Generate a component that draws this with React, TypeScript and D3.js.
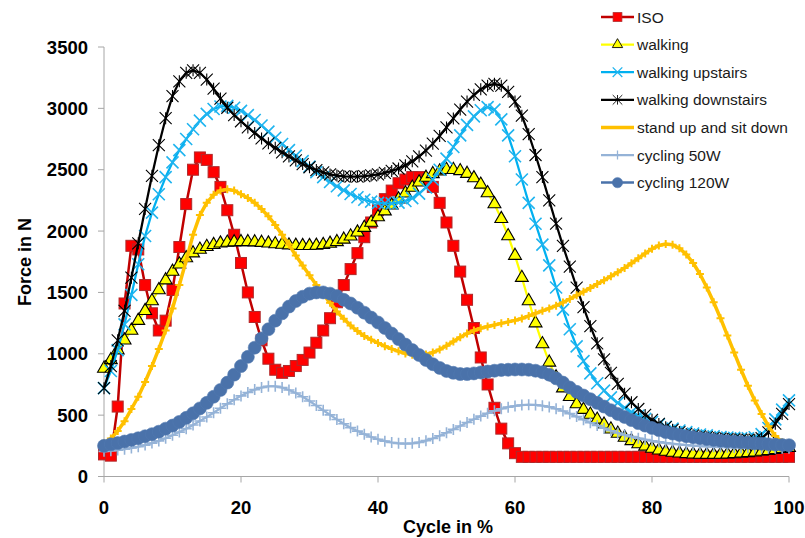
import React from 'react';
import * as d3 from 'd3';

// cycle position in %, one point per percent
const cyclePct = d3.range(0, 101);
const xTicks = [0, 20, 40, 60, 80, 100];
const yTicks = [0, 500, 1000, 1500, 2000, 2500, 3000, 3500];

const iso = [
  180, 170, 570, 1410, 1880, 1850, 1560, 1330, 1190, 1270,
  1520, 1870, 2220, 2500, 2600, 2580, 2480, 2360, 2170, 1970,
  1740, 1500, 1300, 1110, 960, 870, 845, 860, 900, 950,
  1010, 1090, 1190, 1290, 1420, 1560, 1690, 1820, 1950, 2070,
  2170, 2260, 2330, 2390, 2420, 2440, 2440, 2420, 2360, 2230,
  2070, 1880, 1670, 1440, 1210, 970, 750, 560, 390, 270,
  190, 160, 160, 160, 160, 160, 160, 160, 160, 160,
  160, 160, 160, 160, 160, 160, 160, 160, 160, 160,
  160, 160, 160, 160, 160, 160, 160, 160, 160, 160,
  160, 160, 160, 160, 160, 160, 160, 160, 160, 160,
  160,
];

const walking = [
  880, 950, 1030, 1110, 1190, 1270, 1350, 1430, 1520, 1600,
  1670, 1730, 1780, 1820, 1850, 1872, 1888, 1900, 1907, 1910,
  1912, 1912, 1910, 1906, 1900, 1895, 1890, 1885, 1882, 1880,
  1880, 1882, 1888, 1898, 1912, 1932, 1958, 1990, 2028, 2070,
  2115, 2162, 2210, 2260, 2308, 2355, 2398, 2436, 2466, 2488,
  2500, 2500, 2490, 2468, 2432, 2380, 2310, 2220, 2100, 1960,
  1800, 1620, 1430, 1250, 1080, 930, 810, 720, 650, 590,
  545, 505, 465, 425, 385, 350, 318, 290, 265, 245,
  228, 214, 203, 195, 189, 184, 181, 179, 178, 178,
  179, 181, 184, 188, 192, 197, 203, 210, 218, 226,
  235,
];

const upstairs = [
  720, 860, 1030, 1240, 1480, 1730, 1960, 2150, 2300, 2440,
  2560, 2660, 2750, 2830, 2900, 2955, 2995, 3015, 3020, 3005,
  2980, 2945, 2905, 2860, 2810, 2760, 2710, 2660, 2615, 2570,
  2525, 2480, 2440, 2400, 2365, 2332, 2302, 2276, 2255, 2240,
  2230, 2226, 2226, 2232, 2245, 2268, 2305, 2355, 2420, 2500,
  2590, 2685, 2780, 2865, 2935, 2985, 3010, 2990, 2910, 2780,
  2610, 2420, 2230, 2060, 1890, 1720, 1540, 1360, 1200, 1060,
  940, 840, 760, 700, 645, 600, 560, 525, 495, 470,
  445, 425, 405, 390, 375, 362, 350, 342, 335, 328,
  322, 318, 315, 312, 312, 320, 345, 395, 465, 545,
  620,
];

const downstairs = [
  720, 900, 1110, 1350, 1620, 1900, 2180, 2450, 2700, 2920,
  3100, 3220, 3290, 3310, 3290, 3235, 3160, 3080, 3005, 2945,
  2895, 2845, 2800, 2755, 2715, 2678, 2642, 2608, 2576, 2546,
  2520, 2497, 2478, 2462, 2452, 2446, 2444, 2444, 2447, 2453,
  2462, 2474, 2490, 2510, 2536, 2568, 2608, 2656, 2712, 2775,
  2845, 2918, 2990, 3055, 3110, 3155, 3185, 3200, 3185, 3135,
  3055, 2940, 2790, 2620, 2440, 2250, 2060, 1880, 1710, 1540,
  1380, 1225, 1085, 955, 845, 755, 675, 605, 550, 502,
  462, 428, 402, 380, 362, 347, 336, 327, 320, 314,
  309, 305, 302, 300, 298, 300, 312, 360, 430, 510,
  590,
];

const standSit = [
  270, 310, 370, 450, 550, 650, 770, 900, 1040, 1190,
  1370, 1560, 1760, 1970, 2130, 2230, 2295, 2330, 2340, 2330,
  2300, 2270, 2230, 2180, 2120, 2050, 1970, 1890, 1800, 1720,
  1640, 1560, 1485, 1415, 1345, 1285, 1230, 1185, 1145, 1115,
  1088, 1062, 1040, 1020, 1002, 992, 990, 995, 1010, 1035,
  1065, 1100, 1135, 1165, 1190, 1208, 1222, 1235, 1248, 1260,
  1272, 1288, 1308, 1330, 1350, 1370, 1392, 1418, 1446, 1476,
  1506, 1537, 1568, 1600, 1632, 1665, 1700, 1738, 1778, 1818,
  1855, 1882, 1895, 1888, 1860, 1810, 1740, 1650, 1540, 1420,
  1290, 1150, 1010, 870, 740, 620, 510, 410, 330, 280,
  250,
];

const cycling50 = [
  205, 210, 215, 222, 232, 243, 256, 272, 290, 312,
  336, 362, 390, 420, 452, 485, 520, 556, 592, 626,
  657, 685, 708, 725, 735, 735, 725, 705, 680, 650,
  615, 578, 540, 502, 465, 430, 398, 370, 345, 322,
  303, 288, 277, 270, 268, 270, 278, 292, 310, 332,
  357, 384, 412, 440, 467, 492, 515, 535, 552, 565,
  575, 582, 585, 583, 577, 567, 552, 534, 512, 488,
  463, 438, 415, 393, 373, 355, 339, 325, 312, 301,
  291, 282, 274, 267, 261, 256, 252, 248, 245, 242,
  240, 238, 236, 235, 234, 233, 232, 231, 230, 230,
  230,
];

const cycling120 = [
  250, 262, 272, 285, 298, 312, 328, 345, 365, 390,
  415, 445, 478, 515, 555, 600, 650, 705, 765, 830,
  900, 975, 1050, 1125, 1200, 1270, 1330, 1385, 1430, 1465,
  1490, 1500, 1500, 1490, 1470, 1440, 1410, 1375, 1335, 1295,
  1255, 1210, 1165, 1120, 1075, 1030, 990, 950, 915, 885,
  860, 845, 835, 835, 840, 848, 855, 862, 868, 870,
  872, 872, 870, 862, 850, 830, 800, 765, 725, 690,
  660, 630, 600, 570, 540, 510, 485, 460, 435, 415,
  395, 378, 362, 350, 338, 328, 320, 312, 305, 298,
  292, 287, 283, 279, 275, 270, 267, 263, 260, 257,
  255,
];

const seriesNames = ['ISO', 'walking', 'walking upstairs', 'walking downstairs', 'stand up and sit down', 'cycling 50W', 'cycling 120W'];

const FONT = "Arial, 'Liberation Sans', sans-serif";

type Series = {
  name: string;
  values: number[];
  line: string;
  lw: number;
  marker: string;
  fill: string;
  stroke: string;
  sw: number;
};

const series: Series[] = [
  { name: seriesNames[0], values: iso, line: '#c00000', lw: 2.5, marker: 'square', fill: '#ff0000', stroke: '#b0282a', sw: 1 },
  { name: seriesNames[1], values: walking, line: '#ffff00', lw: 2.25, marker: 'triangle', fill: '#ffff00', stroke: '#000000', sw: 1.1 },
  { name: seriesNames[2], values: upstairs, line: '#00b0f0', lw: 2.25, marker: 'x', fill: 'none', stroke: '#1fb4ef', sw: 1.6 },
  { name: seriesNames[3], values: downstairs, line: '#000000', lw: 2.25, marker: 'star', fill: 'none', stroke: '#000000', sw: 1.1 },
  { name: seriesNames[4], values: standSit, line: '#ffc000', lw: 3.5, marker: 'plus', fill: 'none', stroke: '#ffc000', sw: 2 },
  { name: seriesNames[5], values: cycling50, line: '#95b3d7', lw: 2.25, marker: 'plus50', fill: 'none', stroke: '#95b3d7', sw: 1.6 },
  { name: seriesNames[6], values: cycling120, line: '#4a72aa', lw: 2.5, marker: 'circle', fill: '#4a72aa', stroke: '#5078b0', sw: 0.6 },
];

const triPath = d3.symbol(d3.symbolTriangle, 72)() as string;

function Marker({ s, cx, cy, scale = 1 }: { s: Series; cx: number; cy: number; scale?: number }) {
  const t = `translate(${cx},${cy}) scale(${scale})`;
  switch (s.marker) {
    case 'square':
      return <rect x={-5.5} y={-5.5} width={11} height={11} transform={t} fill={s.fill} stroke={s.stroke} strokeWidth={s.sw} />;
    case 'triangle':
      return <path d={triPath} transform={t} fill={s.fill} stroke={s.stroke} strokeWidth={s.sw} />;
    case 'x':
      return <path d="M-6,-6L6,6M-6,6L6,-6" transform={t} stroke={s.stroke} strokeWidth={s.sw} fill="none" />;
    case 'star':
      return <path d="M-6,-6L6,6M-6,6L6,-6M0,-6L0,6" transform={t} stroke={s.stroke} strokeWidth={s.sw} fill="none" />;
    case 'plus':
      return <path d="M-4,0L4,0M0,-4L0,4" transform={t} stroke={s.stroke} strokeWidth={s.sw} fill="none" />;
    case 'plus50':
      return <path d="M-5.5,0L5.5,0M0,-5.5L0,5.5" transform={t} stroke={s.stroke} strokeWidth={s.sw} fill="none" />;
    case 'circle':
      return <circle r={6.5} transform={t} fill={s.fill} stroke={s.stroke} strokeWidth={s.sw} />;
    default:
      return null;
  }
}

export default function App() {
  const width = 805;
  const height = 538;

  const x = d3.scaleLinear().domain([0, 100]).range([104, 789]);
  const y = d3.scaleLinear().domain([0, 3500]).range([476.5, 47]);

  const line = d3.line<number>()
    .x((_, i) => x(cyclePct[i]))
    .y(d => y(d));

  const axisColor = '#a6a6a6';

  return (
    <svg width={width} height={height} style={{ position: 'absolute', left: 0, top: 0, background: '#fff' }} fontFamily={FONT}>
      {/* axes */}
      <line x1={x(0)} x2={x(0)} y1={y(3500)} y2={y(0)} stroke={axisColor} strokeWidth={1} />
      <line x1={x(0)} x2={x(100)} y1={y(0)} y2={y(0)} stroke={axisColor} strokeWidth={1} />
      {yTicks.map(t => (
        <g key={'y' + t}>
          <line x1={x(0) - 6} x2={x(0)} y1={y(t)} y2={y(t)} stroke={axisColor} />
          <text x={88} y={y(t)} dy="0.36em" textAnchor="end" fontSize={18.5} fontWeight="bold" fill="#000">{t}</text>
        </g>
      ))}
      {xTicks.map(t => (
        <g key={'x' + t}>
          <line x1={x(t)} x2={x(t)} y1={y(0)} y2={y(0) + 6} stroke={axisColor} />
          <text x={x(t)} y={507} dy="0.36em" textAnchor="middle" fontSize={18.5} fontWeight="bold" fill="#000">{t}</text>
        </g>
      ))}
      <text x={448} y={527} dy="0.36em" textAnchor="middle" fontSize={18} fontWeight="bold">Cycle in %</text>
      <text transform="translate(25,262) rotate(-90)" dy="0.36em" textAnchor="middle" fontSize={18} fontWeight="bold">Force in N</text>

      {/* series */}
      {series.map(s => (
        <g key={s.name}>
          <path d={line(s.values) as string} fill="none" stroke={s.line} strokeWidth={s.lw} strokeLinejoin="round" />
          {s.values.map((v, i) => (
            <Marker key={i} s={s} cx={x(cyclePct[i])} cy={y(v)} />
          ))}
        </g>
      ))}

      {/* legend */}
      {series.map((s, i) => {
        const ly = 17 + i * 27.6;
        return (
          <g key={'lg' + s.name}>
            <line x1={601} x2={634} y1={ly} y2={ly} stroke={s.line} strokeWidth={s.lw} />
            {s.marker !== 'plus' && <Marker s={s} cx={617.5} cy={ly} scale={0.8} />}
            <text x={637} y={ly} dy="0.36em" fontSize={15.5} fill="#1a1a1a">{s.name}</text>
          </g>
        );
      })}
    </svg>
  );
}
